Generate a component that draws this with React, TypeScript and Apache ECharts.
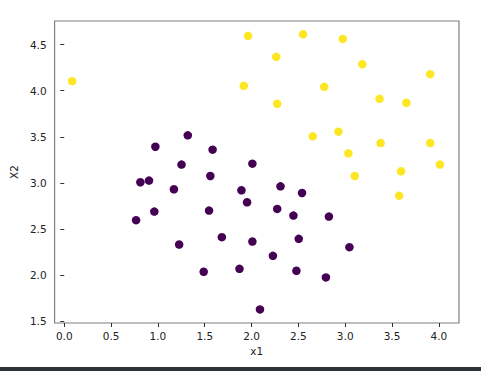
import React, { useEffect, useRef } from "react";
import * as echarts from "echarts";

// Class 1 (yellow) points: [x1, X2]
const yellowX = [0.085, 1.963, 2.55, 2.974, 2.263, 3.183, 3.908, 1.917, 2.776, 2.274, 3.367, 3.653, 2.653, 2.928, 3.378, 3.908, 3.034, 3.102, 3.597, 4.011, 3.576];
const yellowY = [4.103, 4.594, 4.612, 4.561, 4.367, 4.287, 4.179, 4.053, 4.042, 3.858, 3.912, 3.869, 3.505, 3.556, 3.433, 3.433, 3.321, 3.076, 3.127, 3.199, 2.863];

// Class 0 (purple) points
const purpleX = [1.319, 0.973, 1.584, 1.252, 2.009, 0.813, 0.905, 1.56, 1.171, 1.892, 2.309, 2.539, 1.952, 0.767, 0.962, 1.546, 2.274, 2.447, 2.826, 1.227, 1.683, 2.009, 2.504, 3.045, 2.228, 1.489, 1.871, 2.479, 2.794, 2.09];
const purpleY = [3.516, 3.393, 3.361, 3.199, 3.209, 3.008, 3.026, 3.076, 2.932, 2.921, 2.964, 2.892, 2.791, 2.597, 2.69, 2.701, 2.719, 2.647, 2.636, 2.333, 2.413, 2.366, 2.395, 2.305, 2.211, 2.038, 2.07, 2.049, 1.977, 1.63];

const xTicks = [0.0, 0.5, 1.0, 1.5, 2.0, 2.5, 3.0, 3.5, 4.0];
const yTicks = [1.5, 2.0, 2.5, 3.0, 3.5, 4.0, 4.5];

const FONT = "DejaVu Sans";

export default function App() {
  const ref = useRef<HTMLDivElement>(null);
  useEffect(() => {
    const chart = echarts.init(ref.current!, undefined, { renderer: "svg" });
    const zip = (xs: number[], ys: number[]) => xs.map((x, i) => [x, ys[i]]);
    chart.setOption({
      animation: false,
      backgroundColor: "#ffffff",
      grid: {
        left: 52,
        top: 21,
        width: 407,
        height: 302,
        show: true,
        borderColor: "#7f7f7f",
        borderWidth: 1.2,
        backgroundColor: "transparent",
      },
      xAxis: {
        type: "value",
        min: -0.103,
        max: 4.215,
        name: "x1",
        nameLocation: "middle",
        nameGap: 22,
        nameTextStyle: { fontFamily: FONT, fontSize: 10.5, color: "#222" },
        axisLine: { show: false },
        splitLine: { show: false },
        axisTick: {
          show: true,
          length: 4,
          lineStyle: { color: "#333", width: 1 },
          customValues: xTicks,
        },
        axisLabel: {
          fontFamily: FONT,
          fontSize: 10.5,
          color: "#222",
          margin: 7,
          customValues: xTicks,
          formatter: (v: number) => v.toFixed(1),
        },
      },
      yAxis: {
        type: "value",
        min: 1.483,
        max: 4.755,
        name: "X2",
        nameLocation: "middle",
        nameGap: 32,
        nameRotate: 90,
        nameTextStyle: { fontFamily: FONT, fontSize: 10.5, color: "#222" },
        axisLine: { show: false },
        splitLine: { show: false },
        axisTick: {
          show: true,
          length: 4,
          lineStyle: { color: "#333", width: 1 },
          customValues: yTicks,
        },
        axisLabel: {
          fontFamily: FONT,
          fontSize: 10.5,
          color: "#222",
          margin: 8,
          customValues: yTicks,
          formatter: (v: number) => v.toFixed(1),
        },
      },
      series: [
        {
          type: "scatter",
          data: zip(purpleX, purpleY),
          symbolSize: 8.5,
          itemStyle: { color: "#440154", opacity: 1 },
        },
        {
          type: "scatter",
          data: zip(yellowX, yellowY),
          symbolSize: 8.5,
          itemStyle: { color: "#fde725", opacity: 1 },
        },
      ],
      graphic: [
        {
          type: "rect",
          left: 0,
          top: 367,
          shape: { width: 481, height: 4 },
          style: { fill: "#2f3337" },
        },
      ],
    });
    return () => chart.dispose();
  }, []);
  return (
    <div
      ref={ref}
      style={{ position: "fixed", left: 0, top: 0, width: 481, height: 371 }}
    />
  );
}
